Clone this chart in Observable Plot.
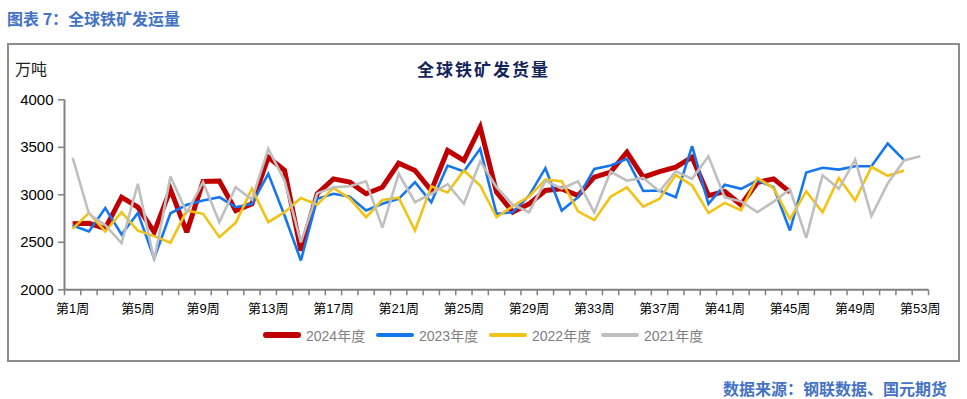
<!DOCTYPE html>
<html><head><meta charset="utf-8">
<script src="https://cdn.jsdelivr.net/npm/d3@7"></script>
<script src="https://cdn.jsdelivr.net/npm/@observablehq/plot@0.6"></script>
<style>
html,body{margin:0;padding:0;background:#fff;}
#wrap{position:relative;width:967px;height:399px;overflow:hidden;font-family:"Noto Sans CJK SC",sans-serif;}
#title{position:absolute;left:7px;top:6px;font-size:16px;font-weight:bold;color:#4472C4;white-space:nowrap;}
#frame{position:absolute;left:7px;top:43px;width:953px;height:319px;border:2px solid #8c8c8c;box-sizing:border-box;}
#unit{position:absolute;left:15px;top:56px;font-size:16px;color:#222;}
#ctitle{position:absolute;left:0;width:967px;top:56px;text-align:center;font-size:17px;font-weight:bold;color:#14245a;letter-spacing:2px;}
#chart{position:absolute;left:0;top:40px;}
#legend{position:absolute;top:324px;left:0;width:967px;height:22px;}
.li{position:absolute;top:0;height:22px;display:flex;align-items:center;font-family:"Liberation Sans Narrow","Liberation Sans","Noto Sans CJK SC",sans-serif;font-size:14px;color:#808080;white-space:nowrap;}
.sw{display:inline-block;width:38px;margin-right:5px;border-radius:3px;}
#source{position:absolute;right:20px;top:376px;font-size:16px;font-weight:bold;color:#4472C4;white-space:nowrap;}
</style></head>
<body>
<div id="wrap">
  <div id="title">图表 7：全球铁矿发运量</div>
  <div id="frame"></div>
  <div id="unit">万吨</div>
  <div id="ctitle">全球铁矿发货量</div>
  <div id="chart"></div>
  <div id="legend"></div>
  <div id="source">数据来源：钢联数据、国元期货</div>
</div>
<script>
const weeks = d3.range(1, 54);
const xLabelWeeks = [1,5,9,13,17,21,25,29,33,37,41,45,49,53];
const yTicks = [2000,2500,3000,3500,4000];
const seriesNames = ["2024年度","2023年度","2022年度","2021年度"];
const seriesColors = ["#C00000","#1577EF","#F2C314","#BFBFBF"];
const seriesWidths = [5, 2.6, 2.6, 2.6];

const v2024 = [2695,2700,2645,2975,2870,2607,3056,2607,3140,3145,2834,2905,3396,3256,2414,3011,3168,3133,3011,3080,3333,3256,3045,3466,3361,3712,3028,2817,2905,3045,3063,2992,3186,3238,3449,3186,3245,3291,3396,2992,3035,2895,3130,3168,3028];
const v2023 = [2677,2614,2860,2582,2810,2330,2806,2895,2940,2975,2870,2905,3221,2782,2308,2958,3011,2980,2834,2905,2958,3133,2922,3308,3245,3484,2800,2817,2992,3280,2834,2975,3273,3308,3379,3040,3045,2975,3512,2905,3105,3063,3150,3080,2624,3235,3284,3265,3300,3300,3540,3365];
const v2022 = [2642,2810,2614,2817,2624,2565,2495,2834,2800,2554,2705,3063,2712,2817,2966,2896,3072,2960,2764,2945,2970,2624,3089,3025,3256,3098,2764,2880,2982,3160,3143,2826,2733,2980,3077,2875,2958,3207,3098,2808,2915,2838,3177,3070,2744,3036,2817,3177,2940,3294,3200,3256];
const v2021 = [3390,2800,2680,2492,3116,2310,3193,2812,3133,2712,3080,2950,3484,3150,2500,3015,3080,3090,3142,2655,3221,2922,3011,3112,2905,3352,3080,2895,2817,3147,3066,3141,2812,3244,3150,3177,3036,3247,3168,3405,2972,2931,2817,2928,3058,2546,3205,3063,3370,2777,3119,3361,3405];

const seriesValues = [v2024, v2023, v2022, v2021];
const rows = seriesValues.flatMap((vals, s) => vals.map((v, i) => ({week: weeks[i], value: v, series: seriesNames[s]})));
const boundaries = [...weeks.map(w => w - 0.5), weeks[weeks.length - 1] + 0.5];

const axisGray = "#808080";
const plot = Plot.plot({
  width: 967,
  height: 320,
  marginTop: 59.3,
  marginBottom: 70.7,
  marginLeft: 64,
  marginRight: 39,
  style: {fontFamily: "'Liberation Sans Narrow','Liberation Sans','Noto Sans CJK SC',sans-serif", background: "transparent", overflow: "visible"},
  x: {type: "linear", domain: [0.5, 53.5]},
  y: {domain: [2000, 4000]},
  marks: [
    Plot.axisY({ticks: yTicks, tickSize: 6, tickPadding: 5, tickFormat: d => String(d), stroke: axisGray, strokeWidth: 1.5, fill: "#000", fontSize: 15, label: null, fontFamily: "'Liberation Sans',sans-serif"}),
    Plot.axisX({ticks: boundaries, tickSize: 6, tickFormat: () => "", stroke: axisGray, strokeWidth: 1.5, label: null}),
    Plot.axisX({ticks: xLabelWeeks, tickSize: 0, tickPadding: 14, tickFormat: d => `第${d}周`, fill: "#000", fontSize: 13, label: null}),
    Plot.ruleY([2000], {x1: 0.5, x2: 53.5, stroke: axisGray, strokeWidth: 2}),
    Plot.ruleX([0.5], {y1: 2000, y2: 4000, stroke: axisGray, strokeWidth: 2}),
    ...seriesNames.map((name, s) => Plot.line(rows.filter(r => r.series === name), {
      x: "week", y: "value", stroke: seriesColors[s], strokeWidth: seriesWidths[s], strokeLinejoin: "miter", strokeMiterlimit: 3, strokeLinecap: "butt"
    }))
  ]
});
document.getElementById("chart").appendChild(plot);

const legendPos = [263, 376, 489, 601];
const legend = document.getElementById("legend");
seriesNames.forEach((name, s) => {
  const it = document.createElement("div");
  it.className = "li";
  it.style.left = legendPos[s] + "px";
  const sw = document.createElement("span");
  sw.className = "sw";
  sw.style.height = (s === 0 ? 6 : 4) + "px";
  sw.style.background = seriesColors[s];
  it.appendChild(sw);
  it.appendChild(document.createTextNode(name));
  legend.appendChild(it);
});
</script>
</body></html>
